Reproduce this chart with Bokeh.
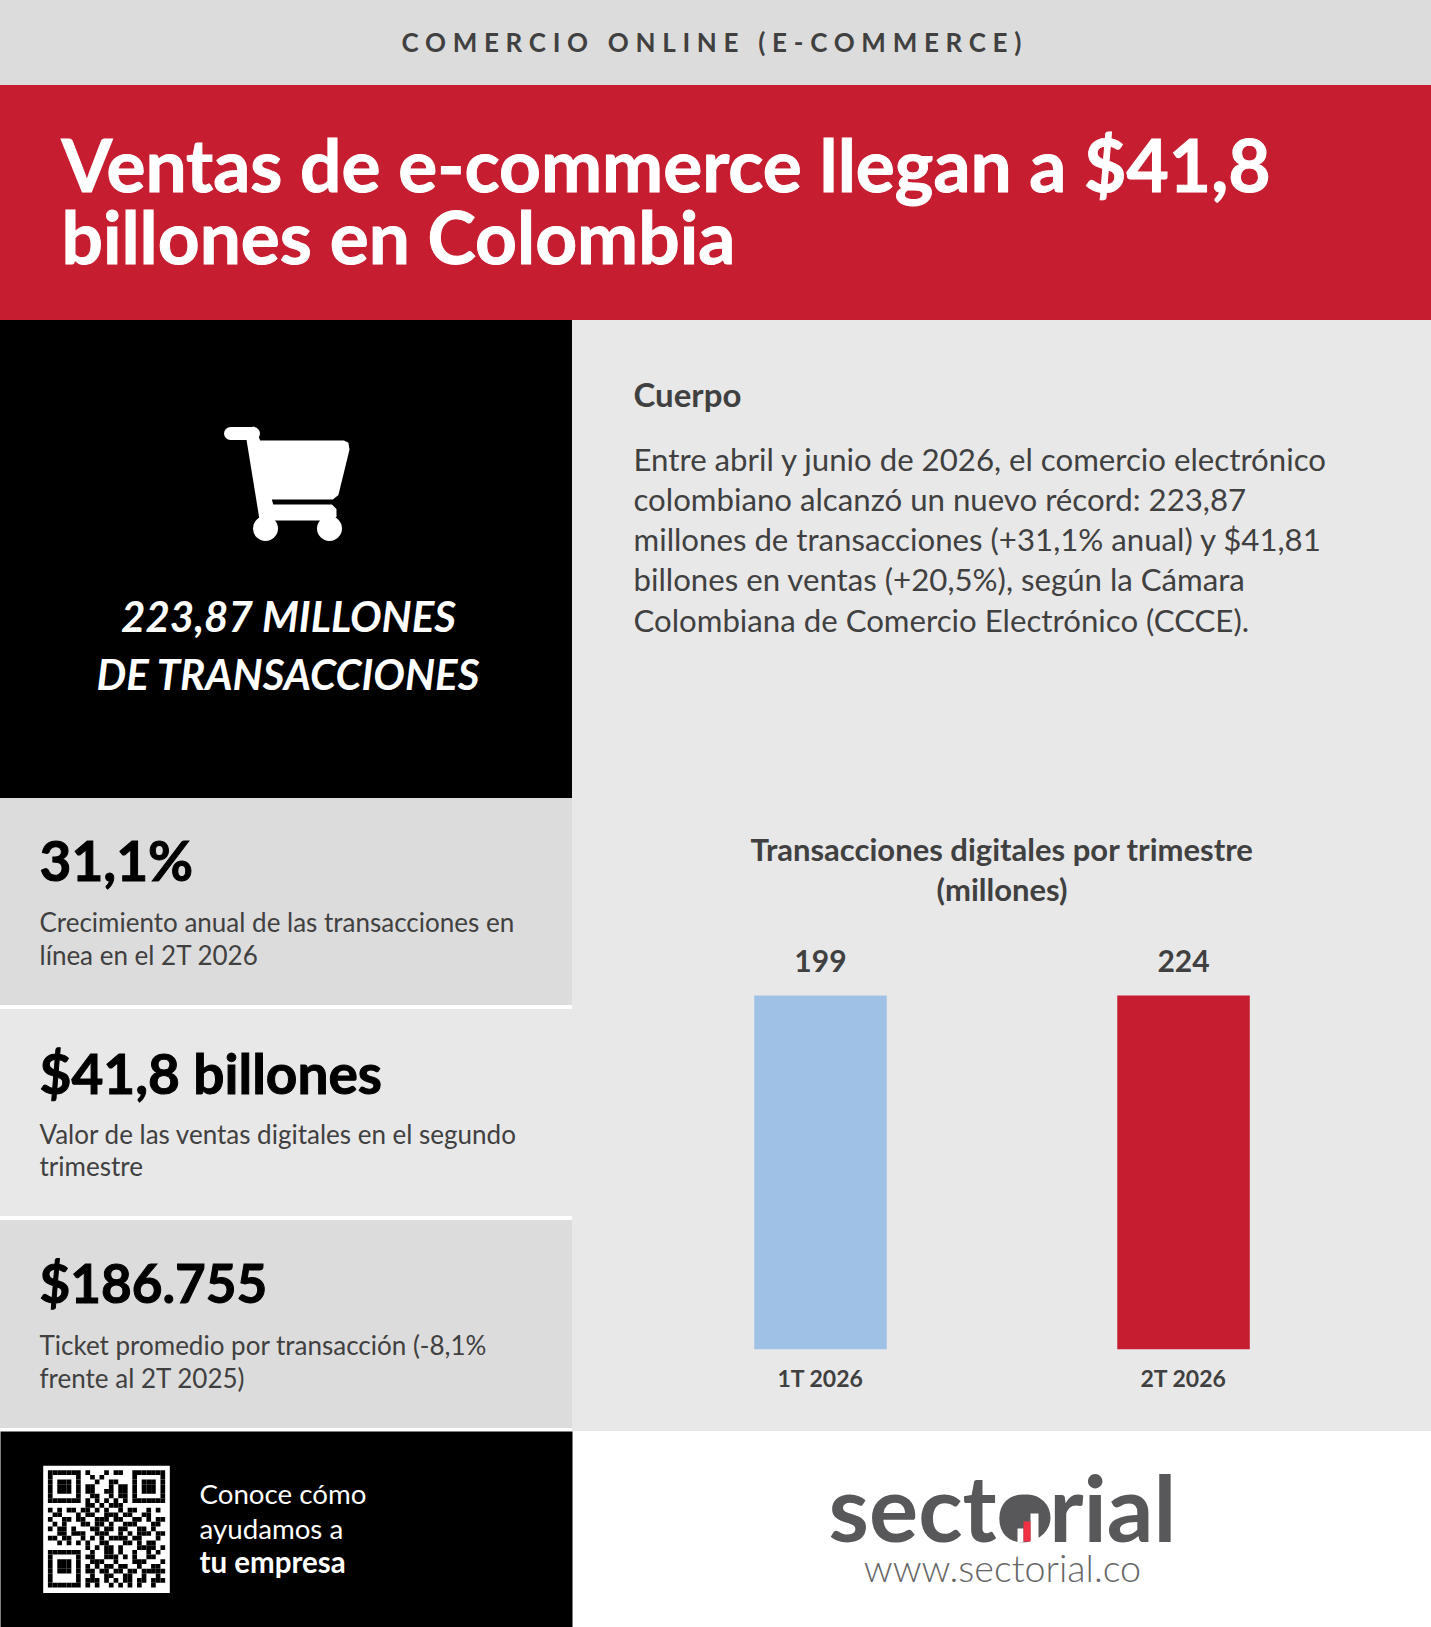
from bokeh.embed import file_html
from bokeh.resources import INLINE
from bokeh.core.properties import value
from bokeh.layouts import column, row
from bokeh.models import Range1d, FactorRange, ColumnDataSource, Title
from bokeh.plotting import figure

# ---------- content ----------
kicker = "COMERCIO ONLINE (E-COMMERCE)"
headline = ["Ventas de e-commerce llegan a $41,8", "billones en Colombia"]
hero = ["223,87 MILLONES", "DE TRANSACCIONES"]
body_title = "Cuerpo"
body_lines = [
    "Entre abril y junio de 2026, el comercio electrónico",
    "colombiano alcanzó un nuevo récord: 223,87",
    "millones de transacciones (+31,1% anual) y $41,81",
    "billones en ventas (+20,5%), según la Cámara",
    "Colombiana de Comercio Electrónico (CCCE).",
]
stat_values = ["31,1%", "$41,8 billones", "$186.755"]
stat_labels = [
    ["Crecimiento anual de las transacciones en", "línea en el 2T 2026"],
    ["Valor de las ventas digitales en el segundo", "trimestre"],
    ["Ticket promedio por transacción (-8,1%", "frente al 2T 2025)"],
]
chart_title = ["Transacciones digitales por trimestre", "(millones)"]
categories = ["1T 2026", "2T 2026"]
value_labels = ["199", "224"]
# the reference draws both bars at the same height
bar_heights = [100, 100]
bar_colors = ["#A0C1E6", "#C61D31"]
cta = ["Conoce cómo", "ayudamos a", "tu empresa"]
logo_text = "sectorial"
logo_url = "www.sectorial.co"
qr_rows = [
    "1111111010001011001111111",
    "1000001001010000001000001",
    "1011101000100110001011101",
    "1011101011000101101011101",
    "1011101011001101101011101",
    "1000001001100101101000001",
    "1111111010101010101111111",
    "0000000011010111000000000",
    "1010110110101001011001010",
    "0110001011001110110011000",
    "1001101100111011001101011",
    "0101000110110100111000110",
    "1011010001101101100110100",
    "0011011100111001010111011",
    "1101100101010111101100010",
    "0010101010011000110101100",
    "0000000010101101000111101",
    "1111111001001101001001010",
    "1000001011001110101001100",
    "1011101001110010001110001",
    "1011101010101101100100110",
    "1011101011011011011011111",
    "1000001001001100110010010",
    "1000001011101010110110111",
    "1111111010100101010100100",
]

FONT = "Lato"
INK = "#404040"
LOGO = "#58585A"
PANEL = "#E8E8E8"


def page_fig(x0, x1, y0, y1, bg):
    p = figure(width=x1 - x0, height=y1 - y0, x_range=Range1d(x0, x1), y_range=Range1d(y1, y0),
               output_backend="svg", toolbar_location=None, min_border=0,
               background_fill_color=None, border_fill_color=None, outline_line_color=None)
    p.styles = {"background-color": bg}
    p.axis.visible = False
    p.grid.visible = False
    return p


def txt(p, x, y, s, size, color, style="normal", align="left", font=FONT, **kw):
    p.text(x=[x], y=[y], text=[s], text_font=value(font), text_font_size=size,
           text_font_style=style, text_color=color, text_align=align, text_baseline="middle", **kw)


# header band (letter spacing is inherited by the svg text)
head = page_fig(0, 1431, 0, 85, "#DCDCDC")
head.styles = {"background-color": "#DCDCDC", "letter-spacing": "6.7px"}
txt(head, 401, 41, kicker, "26px", INK, "bold")

# red band
red = page_fig(0, 1431, 85, 320, "#C61D31")
for s, y in zip(headline, [163, 235]):
    txt(red, 61, y, s, "73px", "white", "bold", text_outline_color="white")

# left column
left = page_fig(0, 572, 320, 1431, "white")
left.styles = {"background": "linear-gradient(to bottom, #000 0 478px, #DCDCDC 478px 685px, #fff 685px 689px, "
                             "#E8E8E8 689px 896px, #fff 896px 900px, #DCDCDC 900px 1108px, #fff 1108px 1111px)"}
# cart icon
left.line(x=[230, 253], y=[433, 433], line_width=13, line_cap="round", color="white")
left.patch(x=[246, 253, 259, 343, 347, 348, 337, 332, 270, 272, 331, 335, 335, 331, 260],
           y=[433, 427, 441, 441, 443, 449, 494, 498, 498, 505, 505, 509, 516, 519, 519],
           color="white", line_join="round", line_width=2, line_color="white")
left.circle(x=[265, 329], y=[528, 528], radius=12.5, fill_color="white", line_color=None)
for s, y in zip(hero, [615, 673]):
    txt(left, 288, y, s, "42px", "white", "bold italic", "center")
stat_y = [859, 1072, 1282]
stat_size = ["55px", "55px", "53px"]
label_y = [(921, 954), (1133, 1165), (1344, 1377)]
for v, y, fs, ls, ys in zip(stat_values, stat_y, stat_size, stat_labels, label_y):
    txt(left, 39, y, v, fs, "black", "bold", text_outline_color="black")
    for l, ly in zip(ls, ys):
        txt(left, 39, ly, l, "26px", INK)

# body text
text_fig = page_fig(572, 1431, 320, 800, PANEL)
txt(text_fig, 633, 393, body_title, "33px", INK, "bold")
for s, y in zip(body_lines, [458, 498, 538, 578, 619]):
    txt(text_fig, 633, y, s, "31.2px", INK)

# chart: frame spans the whole panel, so the padding keeps the two factors apart
src = ColumnDataSource(dict(cat=categories, h=bar_heights, col=bar_colors, lab=value_labels))
chart = figure(width=859, height=631,
               x_range=FactorRange(*categories, factor_padding=0, range_padding=0.183,
                                   range_padding_units="absolute"),
               y_range=Range1d(0, 124.9), output_backend="svg", toolbar_location=None,
               min_border_left=0, min_border_right=0, min_border_bottom=82, min_border_top=107,
               background_fill_color=None, border_fill_color=None, outline_line_color=None)
chart.styles = {"background-color": PANEL}
for line in reversed(chart_title):
    t = Title(text=line, align="center", text_font=FONT, text_font_size="31px",
              text_font_style="bold", text_color=INK, standoff=0)
    chart.add_layout(t, "above")
chart.grid.visible = False
chart.yaxis.visible = False
chart.xaxis.axis_line_color = None
chart.xaxis.major_tick_line_color = None
chart.xaxis.minor_tick_line_color = None
chart.xaxis.major_label_text_font = FONT
chart.xaxis.major_label_text_font_size = "23px"
chart.xaxis.major_label_text_font_style = "bold"
chart.xaxis.major_label_text_color = INK
chart.xaxis.major_label_standoff = 8
chart.vbar(x="cat", top="h", bottom=0, width=0.365, fill_color="col", line_color=None, source=src)
chart.text(x="cat", y="h", text="lab", y_offset=-35, text_align="center", text_baseline="middle",
           text_font=value(FONT), text_font_size="30px", text_font_style="bold", text_color=INK, source=src)

# bottom band
bottom = page_fig(0, 1431, 1431, 1627, "white")
bottom.quad(left=[-6], right=[572], top=[1425], bottom=[1633], fill_color="black", line_color=None)
m = 4.69
qx, qy = 47.4, 1469.7
bottom.quad(left=[42.7], right=[169.3], top=[1465.2], bottom=[1592.5], fill_color="white", line_color=None)
qr_l, qr_r, qr_t, qr_b = [], [], [], []
for r, rowbits in enumerate(qr_rows):
    for c, b in enumerate(rowbits):
        if b == "1":
            qr_l.append(qx + c * m); qr_r.append(qx + (c + 1) * m)
            qr_t.append(qy + r * m); qr_b.append(qy + (r + 1) * m)
bottom.quad(left=qr_l, right=qr_r, top=qr_t, bottom=qr_b, fill_color="black", line_color=None)
for s, y, st, fs in zip(cta, [1493, 1528, 1561], ["normal", "normal", "bold"], ["27.7px", "27.7px", "29.5px"]):
    txt(bottom, 199, y, s, fs, "white", st)
txt(bottom, 1002, 1506, logo_text, "92px", LOGO, "bold", "center")
bottom.circle(x=[1027], y=[1517], radius=23, fill_color=LOGO, line_color=None)
bottom.quad(left=[1017, 1030], right=[1023, 1038], top=[1528, 1513], bottom=[1542, 1542], fill_color="white", line_color=None)
bottom.quad(left=[1023], right=[1030], top=[1521], bottom=[1541], fill_color="#EE3042", line_color=None)
txt(bottom, 1002, 1567, logo_url, "37.7px", "#666666", "normal", "center", font="Lato Light")

page = column(head, red, row(left, column(text_fig, chart, spacing=0), spacing=0), bottom, spacing=0)
page.styles = {"position": "absolute", "left": "0", "top": "0"}

open("out.html", "w").write(file_html(page, INLINE))
